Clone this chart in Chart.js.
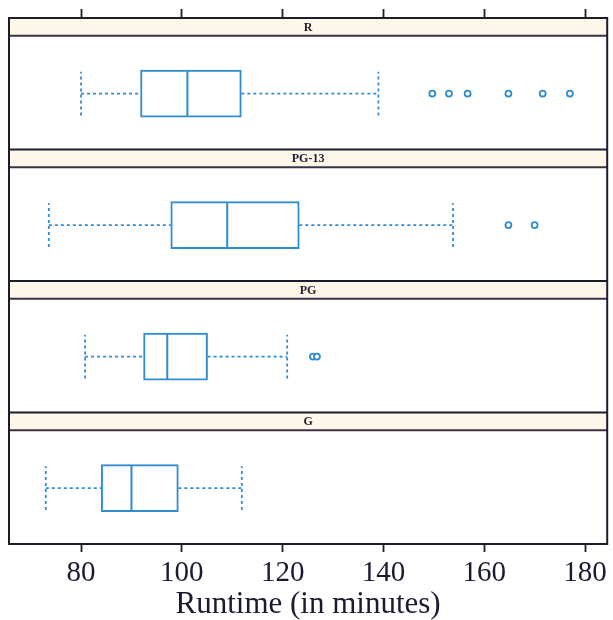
<!DOCTYPE html>
<html>
<head>
<meta charset="utf-8">
<script src="https://cdn.jsdelivr.net/npm/chart.js@4.4.1/dist/chart.umd.min.js"></script>
<style>
html, body { margin: 0; padding: 0; background: #fff; }
#wrap { width: 613px; height: 620px; position: relative; }
</style>
</head>
<body>
<div id="wrap"><canvas id="chart"></canvas></div>
<script>
// panels, top to bottom
var ratings = ['R', 'PG-13', 'PG', 'G'];
var whiskerLow = [80, 73.6, 80.8, 73];
var q1 = [91.8, 97.8, 92.4, 84];
var median = [101.1, 109, 97.1, 90];
var q3 = [111.8, 123.3, 105.1, 99.3];
var whiskerHigh = [139, 153.8, 120.9, 111.9];
var outliers = [
  [149.7, 153, 156.7, 164.8, 171.6, 177],
  [164.8, 170],
  [126, 126.8],
  []
];
var tickValues = [80, 100, 120, 140, 160, 180];

var blue = '#2e8ccf';
var ink = '#1c1c2c';

// one unit of the hidden y axis per panel, R on top
function panelBase(i) { return ratings.length - 1 - i; }
function center(i) { return panelBase(i) + 0.425; }
var capHalf = 0.167;
var medHalf = 0.172;
var stripH = 0.135;

var boxes = ratings.map(function (r, i) { return { y: center(i), x: [q1[i], q3[i]] }; });

var medianPts = [];
var whiskerPts = [];
ratings.forEach(function (r, i) {
  var c = center(i);
  medianPts.push({ x: median[i], y: c - medHalf }, { x: median[i], y: c + medHalf }, { x: median[i], y: null });
  whiskerPts.push({ x: whiskerLow[i], y: c }, { x: q1[i], y: c }, { x: q1[i], y: null });
  whiskerPts.push({ x: q3[i], y: c }, { x: whiskerHigh[i], y: c }, { x: whiskerHigh[i], y: null });
  whiskerPts.push({ x: whiskerLow[i], y: c - capHalf }, { x: whiskerLow[i], y: c + capHalf }, { x: whiskerLow[i], y: null });
  whiskerPts.push({ x: whiskerHigh[i], y: c - capHalf }, { x: whiskerHigh[i], y: c + capHalf }, { x: whiskerHigh[i], y: null });
});

var outlierPts = [];
outliers.forEach(function (list, i) {
  list.forEach(function (v) { outlierPts.push({ x: v, y: center(i) }); });
});

// strips with the rating names + frame round the plot
var panelPlugin = {
  id: 'panels',
  beforeDatasetsDraw: function (chart) {
    var ctx = chart.ctx, area = chart.chartArea, ys = chart.scales.y;
    ctx.save();
    ratings.forEach(function (r, i) {
      var top = ys.getPixelForValue(panelBase(i) + 1);
      var bot = ys.getPixelForValue(panelBase(i) + 1 - stripH);
      ctx.fillStyle = '#fdf7e9';
      ctx.fillRect(area.left, top, area.right - area.left, bot - top);
      ctx.lineWidth = 2.2;
      ctx.strokeStyle = ink;
      ctx.beginPath();
      ctx.moveTo(area.left, top); ctx.lineTo(area.right, top);
      ctx.stroke();
      ctx.strokeStyle = '#3d3145';
      ctx.beginPath();
      ctx.moveTo(area.left, bot); ctx.lineTo(area.right, bot);
      ctx.stroke();
      ctx.fillStyle = ink;
      ctx.font = 'bold 12px "Liberation Serif"';
      ctx.textAlign = 'center';
      ctx.textBaseline = 'middle';
      ctx.fillText(r, (area.left + area.right) / 2, (top + bot) / 2 + 1);
    });
    ctx.lineWidth = 2;
    ctx.strokeStyle = ink;
    ctx.strokeRect(area.left, area.top, area.right - area.left, area.bottom - area.top);
    ctx.restore();
  }
};

function setTicks(scale) {
  scale.ticks = tickValues.map(function (v) { return { value: v }; });
}

new Chart(document.getElementById('chart'), {
  type: 'bar',
  data: {
    datasets: [
      {
        type: 'bar', indexAxis: 'y', data: boxes,
        backgroundColor: '#ffffff', borderColor: blue, borderWidth: 2,
        borderSkipped: false, barThickness: 47, order: 3
      },
      {
        type: 'line', data: medianPts, borderColor: blue, borderWidth: 2,
        pointRadius: 0, spanGaps: false, fill: false, order: 2
      },
      {
        type: 'line', data: whiskerPts, borderColor: blue, borderWidth: 1.8,
        borderDash: [3, 3], pointRadius: 0, spanGaps: false, fill: false, order: 1
      },
      {
        type: 'line', data: outlierPts, showLine: false, pointStyle: 'circle',
        pointRadius: 3, pointBorderWidth: 1.8, pointBorderColor: blue,
        pointBackgroundColor: '#ffffff', order: 0
      }
    ]
  },
  options: {
    responsive: true,
    maintainAspectRatio: false,
    animation: false,
    layout: { padding: { left: 9, right: 5, top: 0, bottom: 0 } },
    plugins: { legend: { display: false }, tooltip: { enabled: false } },
    scales: {
      x: {
        type: 'linear', position: 'bottom', min: 65.7, max: 184.4, offset: false,
        afterBuildTicks: setTicks,
        afterFit: function (s) { s.height = 76; },
        grid: { offset: false, drawOnChartArea: false, tickLength: 8, color: ink, tickWidth: 1.8 },
        border: { display: false },
        ticks: { color: '#1a1a33', padding: 4, font: { family: 'Liberation Serif', size: 29 } },
        title: {
          display: true, text: 'Runtime (in minutes)', color: '#1a1a33',
          padding: { top: 0, bottom: 0 },
          font: { family: 'Liberation Serif', size: 31, lineHeight: 1.0 }
        }
      },
      xTop: {
        type: 'linear', axis: 'x', position: 'top', min: 65.7, max: 184.4, offset: false,
        afterBuildTicks: setTicks,
        afterFit: function (s) { s.height = 18; },
        grid: { offset: false, drawOnChartArea: false, tickLength: 9, color: ink, tickWidth: 1.8 },
        border: { display: false },
        ticks: { display: false }
      },
      y: {
        type: 'linear', min: 0, max: 4, display: false, offset: false,
        grid: { offset: false }
      }
    }
  },
  plugins: [panelPlugin]
});
</script>
</body>
</html>
